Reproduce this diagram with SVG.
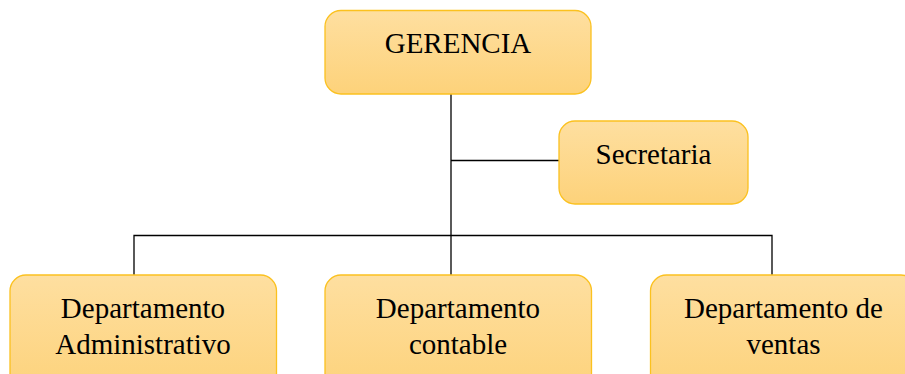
<svg xmlns="http://www.w3.org/2000/svg" width="905" height="374" viewBox="0 0 905 374">
<style>
.box{fill:url(#g);stroke:#fbc11f;stroke-width:1.3}
.t{font-family:"Liberation Serif","Times New Roman",serif;font-size:29px;fill:#000;text-anchor:middle}
.c{fill:none;stroke:#000;stroke-width:1.3}
</style>
<defs>
<linearGradient id="g" x1="0" y1="0" x2="0" y2="1">
<stop offset="0" stop-color="#fedfa0"/>
<stop offset="1" stop-color="#fdd27a"/>
</linearGradient>
</defs>
<rect width="905" height="374" fill="#fff"/>
<g id="connectors">
<path class="c" d="M451,94 V235.5"/>
<path class="c" d="M451,160.5 H559"/>
<path class="c" d="M134,275 V235.5 H772 V275"/>
<path class="c" d="M451,235.5 V275"/>
</g>
<g id="gerencia">
<rect class="box" x="325" y="10.5" width="266" height="83.5" rx="16"/>
<text class="t" x="458" y="53">GERENCIA</text>
</g>
<g id="secretaria">
<rect class="box" x="559" y="121" width="189" height="83" rx="16"/>
<text class="t" x="653.5" y="163.5">Secretaria</text>
</g>
<g id="dep-admin">
<rect class="box" x="10" y="275" width="266.5" height="120" rx="16"/>
<text class="t" x="143" y="318">Departamento</text>
<text class="t" x="143" y="353.5">Administrativo</text>
</g>
<g id="dep-contable">
<rect class="box" x="325" y="275" width="266.5" height="120" rx="16"/>
<text class="t" x="458" y="318">Departamento</text>
<text class="t" x="458" y="353.5">contable</text>
</g>
<g id="dep-ventas">
<rect class="box" x="650.5" y="275" width="266.5" height="120" rx="16"/>
<text class="t" x="783.5" y="318">Departamento de</text>
<text class="t" x="783.5" y="353.5">ventas</text>
</g>
</svg>
